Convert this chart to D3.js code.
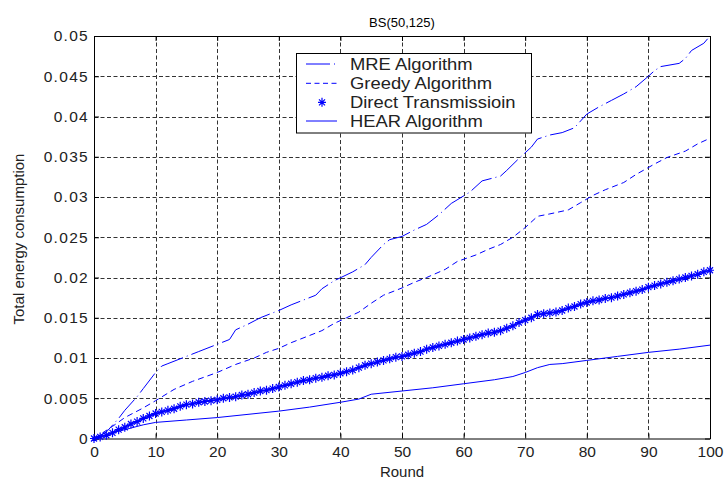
<!DOCTYPE html>
<html>
<head>
<meta charset="utf-8">
<script src="https://cdn.jsdelivr.net/npm/d3@7"></script>
<style>
  body { margin: 0; background: #fff; }
  text { font-family: Arial, "Liberation Sans", sans-serif; }
</style>
</head>
<body>
<div id="container"></div>
<script>
const W = 725, H = 482;
const LEFT = 94, RIGHT = 710, TOP = 36, BOTTOM = 438.5;

const xTicks = [0, 10, 20, 30, 40, 50, 60, 70, 80, 90, 100];
const yTicks = [0, 0.005, 0.01, 0.015, 0.02, 0.025, 0.03, 0.035, 0.04, 0.045, 0.05];
const yTickLabels = ["0", "0.005", "0.01", "0.015", "0.02", "0.025", "0.03", "0.035", "0.04", "0.045", "0.05"];

const seriesNames = ["MRE Algorithm", "Greedy Algorithm", "Direct Transmissioin", "HEAR Algorithm"];

const mreRounds = [0, 2, 4, 5, 7, 8, 10, 11, 12, 15, 17, 20, 22, 23, 25, 27, 30, 32, 34, 36, 37, 39, 42, 44, 45, 47, 48, 50, 52, 54, 56, 58, 61, 63, 66, 67, 69, 71, 72, 74, 76, 78, 80, 82, 84, 86, 88, 90, 91, 92, 95, 96, 97, 99, 100];
const mreValues = [0, 0.0008, 0.0025, 0.0035, 0.0052, 0.0062, 0.0082, 0.009, 0.0093, 0.0102, 0.0108, 0.0117, 0.0123, 0.0135, 0.0142, 0.015, 0.0159, 0.0166, 0.0172, 0.0178, 0.0186, 0.0196, 0.0207, 0.0216, 0.0225, 0.0241, 0.0247, 0.0251, 0.0259, 0.0266, 0.0278, 0.0292, 0.0306, 0.032, 0.0326, 0.0333, 0.0348, 0.0362, 0.0372, 0.0377, 0.038, 0.0386, 0.0403, 0.0412, 0.042, 0.0428, 0.0437, 0.045, 0.0457, 0.0462, 0.0466, 0.0472, 0.0482, 0.0491, 0.05];

const greedyRounds = [0, 3, 5, 8, 10, 13, 16, 20, 23, 26, 28, 30, 32, 35, 37, 39, 41, 43, 45, 47, 50, 52, 54, 57, 59, 62, 64, 66, 68, 70, 72, 74, 77, 79, 81, 83, 86, 88, 91, 93, 96, 98, 100];
const greedyValues = [0, 0.0015, 0.0026, 0.0038, 0.0047, 0.0061, 0.0071, 0.0082, 0.0092, 0.01, 0.0107, 0.0112, 0.0119, 0.0128, 0.0134, 0.0143, 0.015, 0.0157, 0.0168, 0.0178, 0.0187, 0.0194, 0.02, 0.021, 0.022, 0.0228, 0.0235, 0.0241, 0.025, 0.0262, 0.0276, 0.0279, 0.0284, 0.0293, 0.0302, 0.0309, 0.0318, 0.0328, 0.0341, 0.0349, 0.0357, 0.0366, 0.0373];

// one value per round 0..100
const directValues = [
  0, 0.0002, 0.0004, 0.0007, 0.0011, 0.0014, 0.0018, 0.0021, 0.0025, 0.0028,
  0.0031, 0.0033, 0.0035, 0.0037, 0.0040, 0.0042, 0.0043, 0.0045, 0.0046, 0.0047,
  0.0048, 0.0050, 0.0051, 0.0052, 0.0054, 0.0055, 0.0057, 0.0059, 0.0060, 0.0062,
  0.0064, 0.0066, 0.0068, 0.0070, 0.0072, 0.0073, 0.0075, 0.0076, 0.0078, 0.0079,
  0.0081, 0.0083, 0.0085, 0.0088, 0.0091, 0.0093, 0.0095, 0.0097, 0.0099, 0.0101,
  0.0102, 0.0104, 0.0106, 0.0108, 0.0111, 0.0113, 0.0115, 0.0117, 0.0119, 0.0121,
  0.0123, 0.0125, 0.0127, 0.0129, 0.0131, 0.0132, 0.0134, 0.0137, 0.0140, 0.0144,
  0.0147, 0.0150, 0.0154, 0.0155, 0.0156, 0.0157, 0.0159, 0.0162, 0.0164, 0.0167,
  0.0169, 0.0171, 0.0172, 0.0174, 0.0175, 0.0177, 0.0179, 0.0181, 0.0183, 0.0185,
  0.0188, 0.0190, 0.0192, 0.0194, 0.0196, 0.0198, 0.0200, 0.0202, 0.0204, 0.0207,
  0.0209
];
const directRounds = d3.range(0, 101);

const hearRounds = [0, 3, 5, 8, 10, 15, 20, 25, 30, 35, 40, 43, 45, 50, 55, 60, 65, 68, 70, 72, 74, 76, 80, 85, 90, 95, 100];
const hearValues = [0, 0.0007, 0.0011, 0.0017, 0.002, 0.0023, 0.0026, 0.003, 0.0034, 0.0039, 0.0045, 0.0049, 0.0055, 0.0059, 0.0063, 0.0068, 0.0073, 0.0077, 0.0082, 0.0088, 0.0092, 0.0093, 0.0097, 0.0102, 0.0107, 0.0111, 0.0116];

const BLUE = "#0000ff";
const STAR = "M-4,0H4M0,-4.5V4.5M-3,-3L3,3M-3,3L3,-3";

var svg = d3.select("#container").append("svg")
    .attr("width", W)
    .attr("height", H);

var x = d3.scaleLinear().domain([0, 100]).range([LEFT, RIGHT]);
var y = d3.scaleLinear().domain([0, 0.05]).range([BOTTOM, TOP]);

var crisp = function (v) { return Math.round(v) + 0.5; };

// dotted grid
var grid = svg.append("g").attr("stroke", "#333").attr("stroke-width", 1).attr("stroke-dasharray", "4,2.5");
grid.selectAll("line.gx").data(xTicks.slice(1, -1)).join("line")
    .attr("class", "gx")
    .attr("x1", d => crisp(x(d))).attr("x2", d => crisp(x(d)))
    .attr("y1", TOP).attr("y2", BOTTOM);
grid.selectAll("line.gy").data(yTicks.slice(1, -1)).join("line")
    .attr("class", "gy")
    .attr("y1", d => crisp(y(d))).attr("y2", d => crisp(y(d)))
    .attr("x1", LEFT).attr("x2", RIGHT);

// axes with inward ticks on all four sides
var xAxis = svg.append("g")
    .attr("transform", "translate(0," + BOTTOM + ")")
    .call(d3.axisBottom(x).tickValues(xTicks).tickSizeInner(-5).tickSizeOuter(0).tickPadding(7));
var yAxis = svg.append("g")
    .attr("transform", "translate(" + LEFT + ",0)")
    .call(d3.axisLeft(y).tickValues(yTicks).tickSizeInner(-5).tickSizeOuter(0).tickPadding(5)
        .tickFormat((d, i) => yTickLabels[i]));
svg.append("g")
    .attr("transform", "translate(0," + TOP + ")")
    .call(d3.axisTop(x).tickValues(xTicks).tickSizeInner(-5).tickSizeOuter(0).tickFormat(""));
svg.append("g")
    .attr("transform", "translate(" + RIGHT + ",0)")
    .call(d3.axisRight(y).tickValues(yTicks).tickSizeInner(-5).tickSizeOuter(0).tickFormat(""));

svg.selectAll(".domain").attr("stroke", "#000");
xAxis.selectAll("text").attr("font-size", 15.5).attr("fill", "#222").attr("font-family", "Arial, 'Liberation Sans', sans-serif");
yAxis.selectAll("text").attr("font-size", 15.5).attr("fill", "#222").attr("letter-spacing", 1.3)
    .attr("font-family", "Arial, 'Liberation Sans', sans-serif");

// series lines
var line = d3.line().x(d => x(d[0])).y(d => y(d[1]));
var pairs = function (rounds, values) { return rounds.map((r, i) => [r, values[i]]); };

var plot = svg.append("g").attr("fill", "none").attr("stroke", BLUE).attr("stroke-width", 1);
plot.append("path").attr("d", line(pairs(hearRounds, hearValues)));
plot.append("path").attr("d", line(pairs(greedyRounds, greedyValues))).attr("stroke-dasharray", "6,4");
plot.append("path").attr("d", line(pairs(mreRounds, mreValues))).attr("stroke-dasharray", "24,4,1,4");
var directPts = pairs(directRounds, directValues);
plot.append("path").attr("d", line(directPts)).attr("stroke-width", 1.5);
plot.selectAll("path.star").data(directPts).join("path")
    .attr("class", "star")
    .attr("d", STAR)
    .attr("stroke-width", 1.2)
    .attr("transform", d => "translate(" + x(d[0]) + "," + y(d[1]) + ")");

// title and axis labels
svg.append("text").attr("x", 402).attr("y", 27).attr("text-anchor", "middle")
    .attr("font-size", 13).attr("fill", "#000").text("BS(50,125)");
svg.append("text").attr("x", 402).attr("y", 477).attr("text-anchor", "middle")
    .attr("font-size", 15).attr("fill", "#222").text("Round");
svg.append("text").attr("transform", "translate(24," + 239 + ") rotate(-90)").attr("text-anchor", "middle")
    .attr("font-size", 15).attr("fill", "#222").text("Total energy consumption");

// legend
var legendRows = [64, 83.3, 102.3, 121];
var legendDash = ["24,4,1,4", "5,3.5", null, null];
var legend = svg.append("g");
legend.append("rect").attr("x", 296.5).attr("y", 53.5).attr("width", 235).attr("height", 79.5)
    .attr("fill", "#fff").attr("stroke", "#000");
var entry = legend.selectAll("g.entry").data(seriesNames).join("g").attr("class", "entry");
entry.filter((d, i) => i !== 2).append("line")
    .attr("x1", 306).attr("x2", 337)
    .attr("y1", d => legendRows[seriesNames.indexOf(d)]).attr("y2", d => legendRows[seriesNames.indexOf(d)])
    .attr("stroke", BLUE).attr("stroke-width", 1)
    .attr("stroke-dasharray", d => legendDash[seriesNames.indexOf(d)]);
entry.filter((d, i) => i === 2).append("path")
    .attr("d", STAR).attr("fill", "none").attr("stroke", BLUE).attr("stroke-width", 1.2)
    .attr("transform", "translate(322," + legendRows[2] + ")");
entry.append("text")
    .attr("transform", (d, i) => "translate(350," + (legendRows[i] + 5.6) + ") scale(1.15,1)")
    .attr("font-size", 16).attr("fill", "#222")
    .text(d => d);
</script>
</body>
</html>
